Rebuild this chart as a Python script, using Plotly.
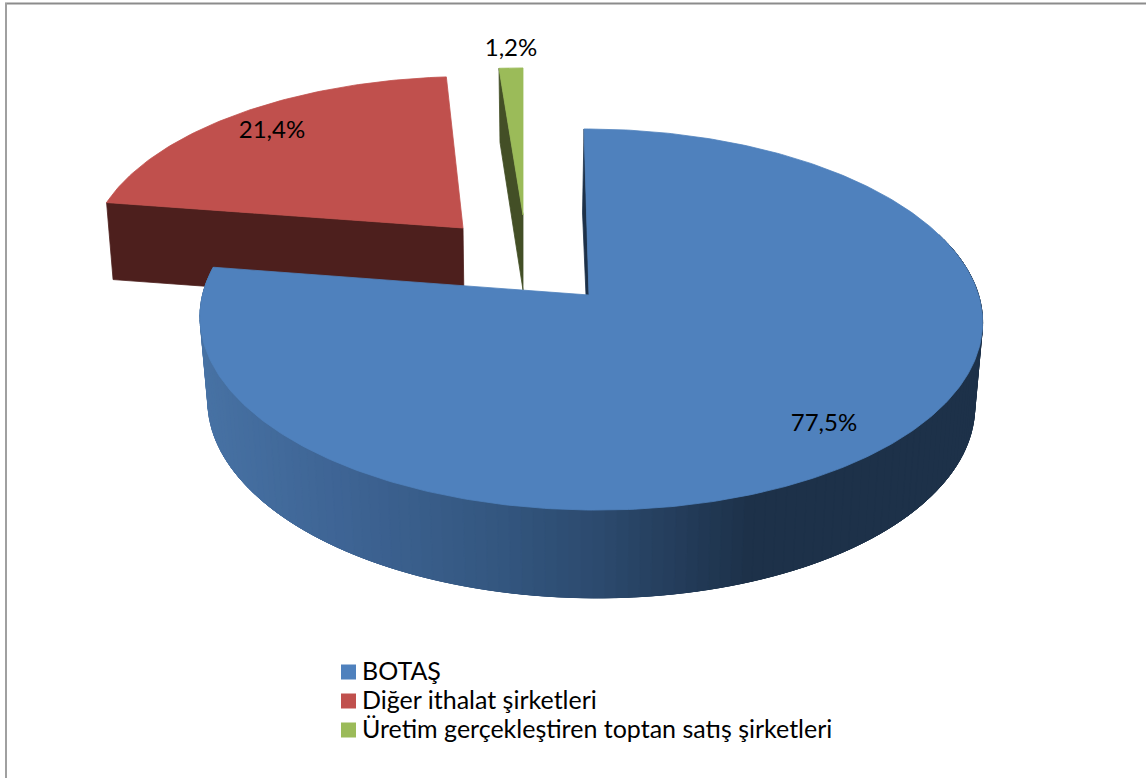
import numpy as np
import plotly.graph_objects as go

categories = ["BOTAŞ", "Diğer ithalat şirketleri", "Üretim gerçekleştiren toptan satış şirketleri"]
shares = [77.5, 21.4, 1.2]
share_labels = ["77,5%", "21,4%", "1,2%"]

TOP_COLORS = ["#4F81BD", "#C0504D", "#9BBB59"]
SIDE_COLORS = ["#1D3149", "#4D1F1D", "#434F26"]
FONT = "Lato"

W, H = 1146, 778
K = 0.1287
# per-slice projected geometry: apex x/y, horizontal and vertical radius, shear
GEOM = [
    dict(ax=589, ay=295, A=388, B=187.4, s=-5.6, m=-0.004),
    dict(ax=463, ay=228, A=369, B=171, s=9, m=0),
    dict(ax=523, ay=215, A=360, B=166, s=0, m=0),
]
LABEL_POS = [(824, 425), (272, 132), (511, 50)]
LEGEND_X, LEGEND_TEXT_X = 348.5, 362
LEGEND_Y = [672, 701, 730]
LEGEND_TEXT_Y = [674, 703, 732]

total = sum(shares)
edges = np.concatenate([[0], np.cumsum(shares)]) / total * 360.0


def project(g, deg):
    t = np.radians(deg)
    X, Y = np.sin(t), np.cos(t)
    w = 1 + K * Y + g["m"] * X
    return g["ax"] + (g["A"] * X + g["s"] * Y) / w, g["ay"] - g["B"] * Y / w


def poly(fig, xs, ys, color, lw=0.8):
    fig.add_trace(go.Scatter(
        x=xs, y=ys, mode="lines", fill="toself", fillcolor=color,
        line=dict(color=color, width=lw), hoverinfo="skip", showlegend=False))


def lower(x, y):
    """Bottom rim of the blue slice from its top rim."""
    return 590 + (x - 590) * 0.98, y + 84 + (y - 320) * 0.02


def wall_color(x):
    stops_x = [200, 350, 500, 600, 750]
    stops = np.array([[72, 115, 165], [62, 100, 148], [52, 87, 128], [44, 74, 110], [29, 49, 73]])
    rgb = [int(np.interp(x, stops_x, stops[:, i])) for i in range(3)]
    return "rgb(%d,%d,%d)" % tuple(rgb)


fig = go.Figure()

# red slice: cut face, then top
rt = np.linspace(edges[1], edges[2], 80)
rx, ry = project(GEOM[1], rt)
a1 = (rx[0], ry[0])
poly(fig,
     [a1[0], a1[0] + 6.5, GEOM[1]["ax"] + 1, GEOM[1]["ax"], a1[0]],
     [a1[1], a1[1] + 77, GEOM[1]["ay"] + 77, GEOM[1]["ay"], a1[1]],
     SIDE_COLORS[1])
poly(fig, [GEOM[1]["ax"], *rx, GEOM[1]["ax"]], [GEOM[1]["ay"], *ry, GEOM[1]["ay"]], TOP_COLORS[1])

# green slice: cut face, then top
gt = np.linspace(edges[2], edges[3], 12)
gx, gy = project(GEOM[2], gt)
poly(fig,
     [gx[0], gx[0] + 1, GEOM[2]["ax"], GEOM[2]["ax"], gx[0]],
     [gy[0], gy[0] + 74, GEOM[2]["ay"] + 75, GEOM[2]["ay"], gy[0]],
     SIDE_COLORS[2])
poly(fig, [GEOM[2]["ax"], *gx, GEOM[2]["ax"]], [GEOM[2]["ay"], *gy, GEOM[2]["ay"]], TOP_COLORS[2])

# blue slice: shaded outer wall in overlapping strips, inner sliver, then top
bt = np.linspace(edges[0], edges[1], 361)
bx, by = project(GEOM[0], bt)
lx, ly = lower(bx, by)
wall_idx = np.where(bt >= 70)[0][::2]
for i, j in zip(wall_idx[:-1], wall_idx[1:]):
    k = min(j + 6, len(bx) - 1)
    c = wall_color(0.5 * (lx[i] + lx[j]))
    xs = [*bx[i:k + 1], *lx[i:k + 1][::-1], bx[i]]
    ys = [*by[i:k + 1], *ly[i:k + 1][::-1], by[i]]
    poly(fig, xs, ys, c)
poly(fig,
     [bx[0], bx[0] - 1.5, GEOM[0]["ax"] - 3, GEOM[0]["ax"], bx[0]],
     [by[0], by[0] + 84, GEOM[0]["ay"], GEOM[0]["ay"], by[0]],
     SIDE_COLORS[0])
poly(fig, [GEOM[0]["ax"], *bx, GEOM[0]["ax"]], [GEOM[0]["ay"], *by, GEOM[0]["ay"]], TOP_COLORS[0])

# data labels
fig.add_trace(go.Scatter(
    x=[p[0] for p in LABEL_POS], y=[p[1] for p in LABEL_POS], text=share_labels,
    mode="text", textposition="middle center",
    textfont=dict(family=FONT, size=24, color="#000000"),
    hoverinfo="skip", showlegend=False))

# legend rows: swatch and label for each category
fig.add_trace(go.Scatter(
    x=[LEGEND_X] * 3, y=LEGEND_Y, mode="markers",
    marker=dict(symbol="square", size=15, color=TOP_COLORS, line=dict(width=0)),
    hoverinfo="skip", showlegend=False))
fig.add_trace(go.Scatter(
    x=[LEGEND_TEXT_X] * 3, y=LEGEND_TEXT_Y, text=categories,
    mode="text", textposition="middle right",
    textfont=dict(family=FONT, size=25, color="#000000"),
    hoverinfo="skip", showlegend=False))

fig.update_layout(
    width=W, height=H, margin=dict(l=0, r=0, t=0, b=0),
    paper_bgcolor="#FFFFFF", plot_bgcolor="#FFFFFF",
    showlegend=False,
    xaxis=dict(range=[0, W], visible=False, fixedrange=True),
    yaxis=dict(range=[H, 0], visible=False, fixedrange=True),
    font=dict(family=FONT, size=24, color="#000000"),
    shapes=[
        dict(type="line", xref="x", yref="y", x0=5, x1=W, y0=3.5, y1=3.5,
             line=dict(color="#8C8C8C", width=2)),
        dict(type="line", xref="x", yref="y", x0=6, x1=6, y0=3, y1=H,
             line=dict(color="#A0A0A0", width=2)),
    ],
)

fig.write_html("out.html", config={"displayModeBar": False},
               post_script="document.body.style.margin='0';document.body.style.overflow='hidden';")
